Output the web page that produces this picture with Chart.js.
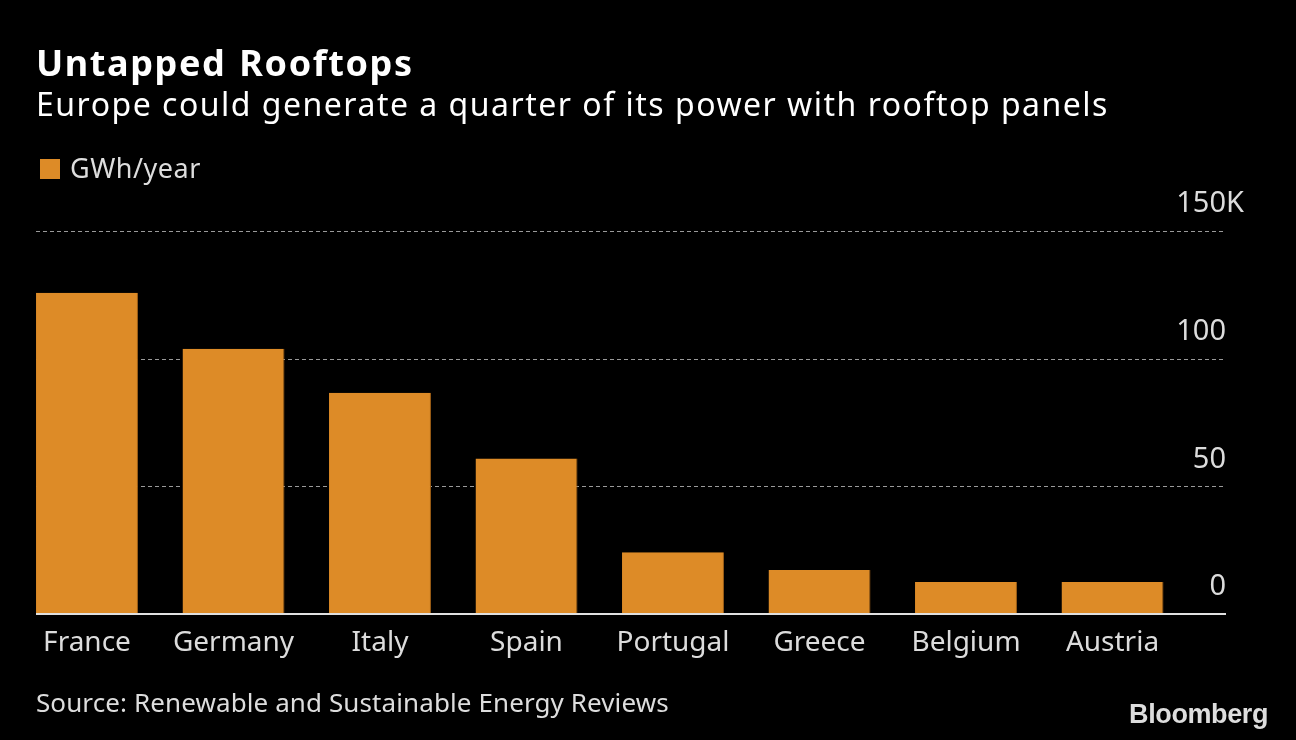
<!DOCTYPE html>
<html>
<head>
<meta charset="utf-8">
<script src="https://cdn.jsdelivr.net/npm/chart.js@4.4.1/dist/chart.umd.min.js"></script>
<style>
  html, body { margin: 0; padding: 0; background: #000; }
  body { width: 1296px; height: 740px; position: relative; overflow: hidden; font-family: "Noto Sans", sans-serif; }
  #wrap { position: absolute; left: 0; top: 0; width: 1296px; height: 740px; }
  .t { position: absolute; white-space: nowrap; line-height: 1; }
  #title { left: 36px; top: 45px; font-size: 36px; font-weight: bold; color: #fff; letter-spacing: 1.6px; word-spacing: 2px; }
  #subtitle { left: 36px; top: 88px; font-size: 32px; color: #fff; letter-spacing: 1.5px; }
  #legend { left: 40px; top: 154px; font-size: 27px; color: #ddd; letter-spacing: 0.5px; }
  #legend .sw { display: inline-block; width: 20px; height: 20px; background: #DD8B27; margin-right: 10px; vertical-align: -1px; }
  #source { left: 36px; top: 689px; font-size: 26px; color: #ddd; letter-spacing: 0.1px; }
  #logo { right: 28px; top: 701px; font-size: 27px; font-weight: bold; color: #ddd; font-family: "Liberation Sans", Arial, sans-serif; letter-spacing: -0.4px; }
</style>
</head>
<body>
<div id="wrap"><canvas id="c" width="1296" height="740"></canvas></div>
<div class="t" id="title">Untapped Rooftops</div>
<div class="t" id="subtitle">Europe could generate a quarter of its power with rooftop panels</div>
<div class="t" id="legend"><span class="sw"></span>GWh/year</div>
<div class="t" id="source">Source: Renewable and Sustainable Energy Reviews</div>
<div class="t" id="logo">Bloomberg</div>
<script>
const categories = ['France', 'Germany', 'Italy', 'Spain', 'Portugal', 'Greece', 'Belgium', 'Austria'];
const gwhPerYear = [125.8, 103.9, 86.7, 60.9, 24.2, 17.2, 12.5, 12.5]; // thousands of GWh/year
const yTickValues = [0, 50, 100, 150];
const yTickLabels = ['0', '50', '100', '150'];
const yTopSuffix = 'K';

const BAR = '#DD8B27';
const GRID_LEFT = 36, GRID_RIGHT = 1226;

const gridPlugin = {
  id: 'bbgGrid',
  beforeDatasetsDraw(chart) {
    const ctx = chart.ctx, y = chart.scales.y;
    ctx.save();
    ctx.strokeStyle = '#9a9a9a';
    ctx.lineWidth = 1;
    ctx.setLineDash([4, 3]);
    yTickValues.forEach(v => {
      if (v === 0) return;
      const py = Math.round(y.getPixelForValue(v)) + 0.5;
      ctx.beginPath(); ctx.moveTo(GRID_LEFT, py); ctx.lineTo(GRID_RIGHT, py); ctx.stroke();
    });
    ctx.restore();
  },
  afterDatasetsDraw(chart) {
    const ctx = chart.ctx, y = chart.scales.y;
    ctx.save();
    const p0 = y.getPixelForValue(0);
    ctx.strokeStyle = '#e0e0e0';
    ctx.lineWidth = 2;
    ctx.beginPath(); ctx.moveTo(GRID_LEFT, p0); ctx.lineTo(GRID_RIGHT, p0); ctx.stroke();
    ctx.fillStyle = '#dcdcdc';
    ctx.font = '29px "Noto Sans"';
    ctx.textBaseline = 'middle';
    yTickValues.forEach((v, i) => {
      const py = y.getPixelForValue(v) - 27;
      ctx.textAlign = 'right';
      ctx.fillText(yTickLabels[i], GRID_RIGHT, py);
      if (i === yTickValues.length - 1) {
        ctx.textAlign = 'left';
        ctx.fillText(yTopSuffix, GRID_RIGHT, py);
      }
    });
    ctx.restore();
  }
};

new Chart(document.getElementById('c'), {
  type: 'bar',
  data: {
    labels: categories,
    datasets: [{
      label: 'GWh/year',
      data: gwhPerYear,
      backgroundColor: BAR,
      borderColor: '#9a5c16',
      borderWidth: { top: 0, left: 0, bottom: 0, right: 1 },
      borderSkipped: false,
      categoryPercentage: 1.0,
      barPercentage: 0.696
    }]
  },
  options: {
    responsive: false,
    animation: false,
    events: [],
    layout: { padding: { left: 13.75, right: 110.25, top: 231, bottom: 66 } },
    plugins: { legend: { display: false }, tooltip: { enabled: false } },
    scales: {
      x: {
        grid: { display: false },
        border: { display: false },
        ticks: { color: '#dcdcdc', font: { family: 'Noto Sans', size: 28 }, padding: 4, maxRotation: 0 },
        afterFit(scale) { scale.height = 60; }
      },
      y: { display: false, min: 0, max: 150 }
    }
  },
  plugins: [gridPlugin]
});
</script>
</body>
</html>
